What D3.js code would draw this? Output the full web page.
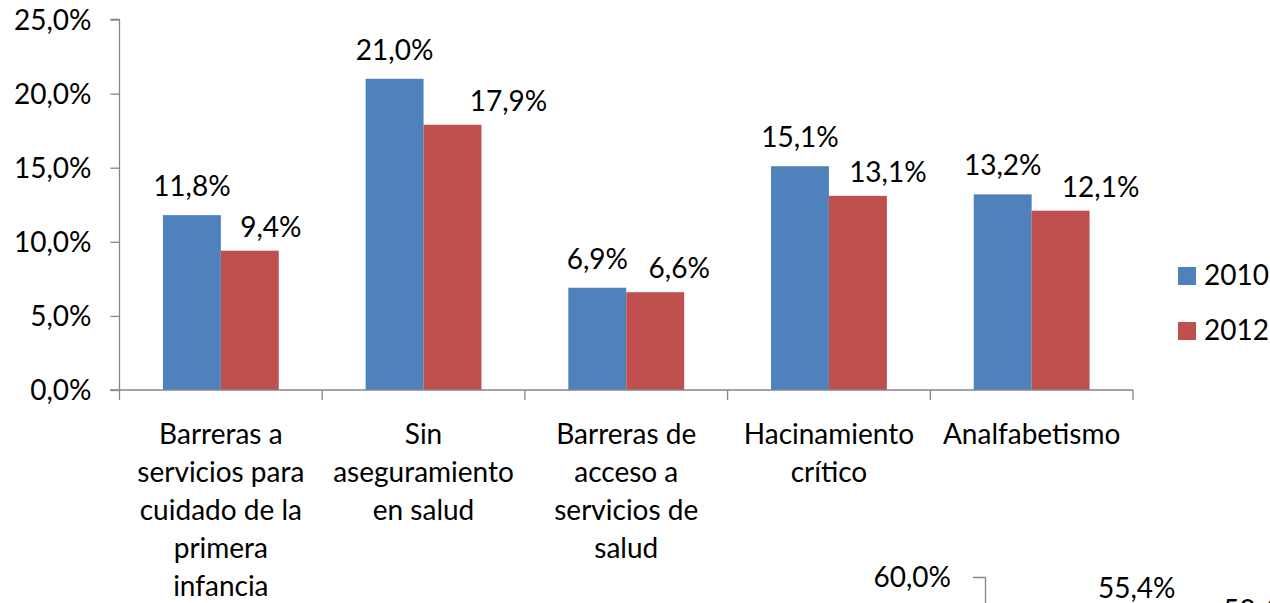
<!DOCTYPE html>
<html lang="es">
<head>
<meta charset="UTF-8">
<title>Indicadores 2010 - 2012</title>
<script src="https://d3js.org/d3.v7.min.js"></script>
<style>
  body { margin: 0; background: #fff; }
  text { font-family: Lato, "Open Sans", sans-serif; fill: #000; }
</style>
</head>
<body>
<script>
// datos
var categories = [
  ["Barreras a", "servicios para", "cuidado de la", "primera", "infancia"],
  ["Sin", "aseguramiento", "en salud"],
  ["Barreras de", "acceso a", "servicios de", "salud"],
  ["Hacinamiento", "crítico"],
  ["Analfabetismo"]
];
var years = ["2010", "2012"];
var values2010 = [11.8, 21.0, 6.9, 15.1, 13.2];
var values2012 = [9.4, 17.9, 6.6, 13.1, 12.1];
var yTicks = [0, 5, 10, 15, 20, 25];
var colors = ["#4F81BD", "#C0504D"];

// desplazamiento manual de etiquetas (como en el original)
var labelShift2012 = [21, 56, 24, 30, 40];

// segundo grafico, cortado abajo a la derecha
var nextTicks = [60];
var nextLabels = ["55,4%", "53,6%"];

var width = 1270, height = 603;
var fontSize = 28;

function fmt(v) { return v.toFixed(1).replace(".", ",") + "%"; }

var svg = d3.select("body").append("svg")
  .attr("width", width).attr("height", height);

var x0 = d3.scaleBand()
  .domain(d3.range(categories.length))
  .range([119.5, 1133])
  .paddingInner(0).paddingOuter(0);

var x1 = d3.scaleBand()
  .domain(years)
  .range([0, x0.bandwidth()])
  .paddingInner(0).paddingOuter(0.75);

var y = d3.scaleLinear().domain([0, 25]).range([390, 19.5]);

// eje y
var yAxis = d3.axisLeft(y)
  .tickValues(yTicks)
  .tickSize(9)
  .tickPadding(19)
  .tickFormat(fmt);

var gy = svg.append("g")
  .attr("transform", "translate(119.5,0)")
  .call(yAxis);
gy.selectAll("path, line").attr("stroke", "#868686").attr("stroke-width", 1.3);
gy.select(".domain").attr("d", "M-9," + y(25) + "H0V" + y(0));
gy.selectAll("text")
  .style("font-size", fontSize + "px")
  .attr("dy", "0.35em");

// barras
var rows = categories.map(function(c, i) {
  return [
    { key: years[0], value: values2010[i], i: i },
    { key: years[1], value: values2012[i], i: i }
  ];
});

var groups = svg.append("g").selectAll("g")
  .data(rows)
  .enter().append("g")
  .attr("transform", function(d, i) { return "translate(" + x0(i) + ",0)"; });

groups.selectAll("rect")
  .data(function(d) { return d; })
  .enter().append("rect")
  .attr("x", function(d) { return x1(d.key); })
  .attr("y", function(d) { return y(d.value); })
  .attr("width", x1.bandwidth())
  .attr("height", function(d) { return y(0) - y(d.value); })
  .attr("fill", function(d, j) { return colors[j]; });

groups.selectAll("text")
  .data(function(d) { return d; })
  .enter().append("text")
  .attr("text-anchor", "middle")
  .style("font-size", fontSize + "px")
  .attr("x", function(d, j) {
    var shift = j === 1 ? labelShift2012[d.i] : 0;
    return x1(d.key) + x1.bandwidth() / 2 + shift;
  })
  .attr("y", function(d, j) { return y(d.value) - (j === 0 ? 19 : 14); })
  .text(function(d) { return fmt(d.value); });

// eje x
var gx = svg.append("g").attr("transform", "translate(0,390)");
gx.append("line")
  .attr("x1", 110).attr("x2", x0.range()[1])
  .attr("stroke", "#868686").attr("stroke-width", 1.3);
gx.selectAll(".tk")
  .data(d3.range(categories.length + 1))
  .enter().append("line")
  .attr("x1", function(i) { return i < categories.length ? x0(i) : x0.range()[1]; })
  .attr("x2", function(i) { return i < categories.length ? x0(i) : x0.range()[1]; })
  .attr("y1", 0).attr("y2", 10)
  .attr("stroke", "#868686").attr("stroke-width", 1.3);

gx.selectAll(".cat")
  .data(categories)
  .enter().append("text")
  .attr("text-anchor", "middle")
  .style("font-size", fontSize + "px")
  .attr("x", function(d, i) { return x0(i) + x0.bandwidth() / 2; })
  .attr("y", 54)
  .selectAll("tspan")
  .data(function(d) { return d; })
  .enter().append("tspan")
  .attr("x", function() { return d3.select(this.parentNode).attr("x"); })
  .attr("dy", function(d, k) { return k === 0 ? 0 : 38; })
  .text(function(d) { return d; });

// leyenda
var legend = svg.append("g").attr("transform", "translate(1178,267)");
var li = legend.selectAll("g").data(years).enter().append("g")
  .attr("transform", function(d, i) { return "translate(0," + (i * 55) + ")"; });
li.append("rect").attr("width", 18).attr("height", 18)
  .attr("fill", function(d, i) { return colors[i]; });
li.append("text").attr("x", 26).attr("y", 18)
  .style("font-size", fontSize + "px")
  .text(function(d) { return d; });

// comienzo del siguiente grafico (cortado)
var g2 = svg.append("g");
g2.append("path")
  .attr("d", "M973,577.5H985.5V" + height)
  .attr("fill", "none").attr("stroke", "#868686").attr("stroke-width", 1.3);
g2.selectAll(".t2").data(nextTicks).enter().append("text")
  .attr("text-anchor", "end").attr("x", 951).attr("y", 587)
  .style("font-size", fontSize + "px")
  .text(function(d) { return fmt(d); });
g2.selectAll(".l2").data(nextLabels).enter().append("text")
  .attr("x", function(d, i) { return [1098, 1223][i]; })
  .attr("y", function(d, i) { return [598, 620][i]; })
  .style("font-size", fontSize + "px")
  .text(function(d) { return d; });
</script>
</body>
</html>
